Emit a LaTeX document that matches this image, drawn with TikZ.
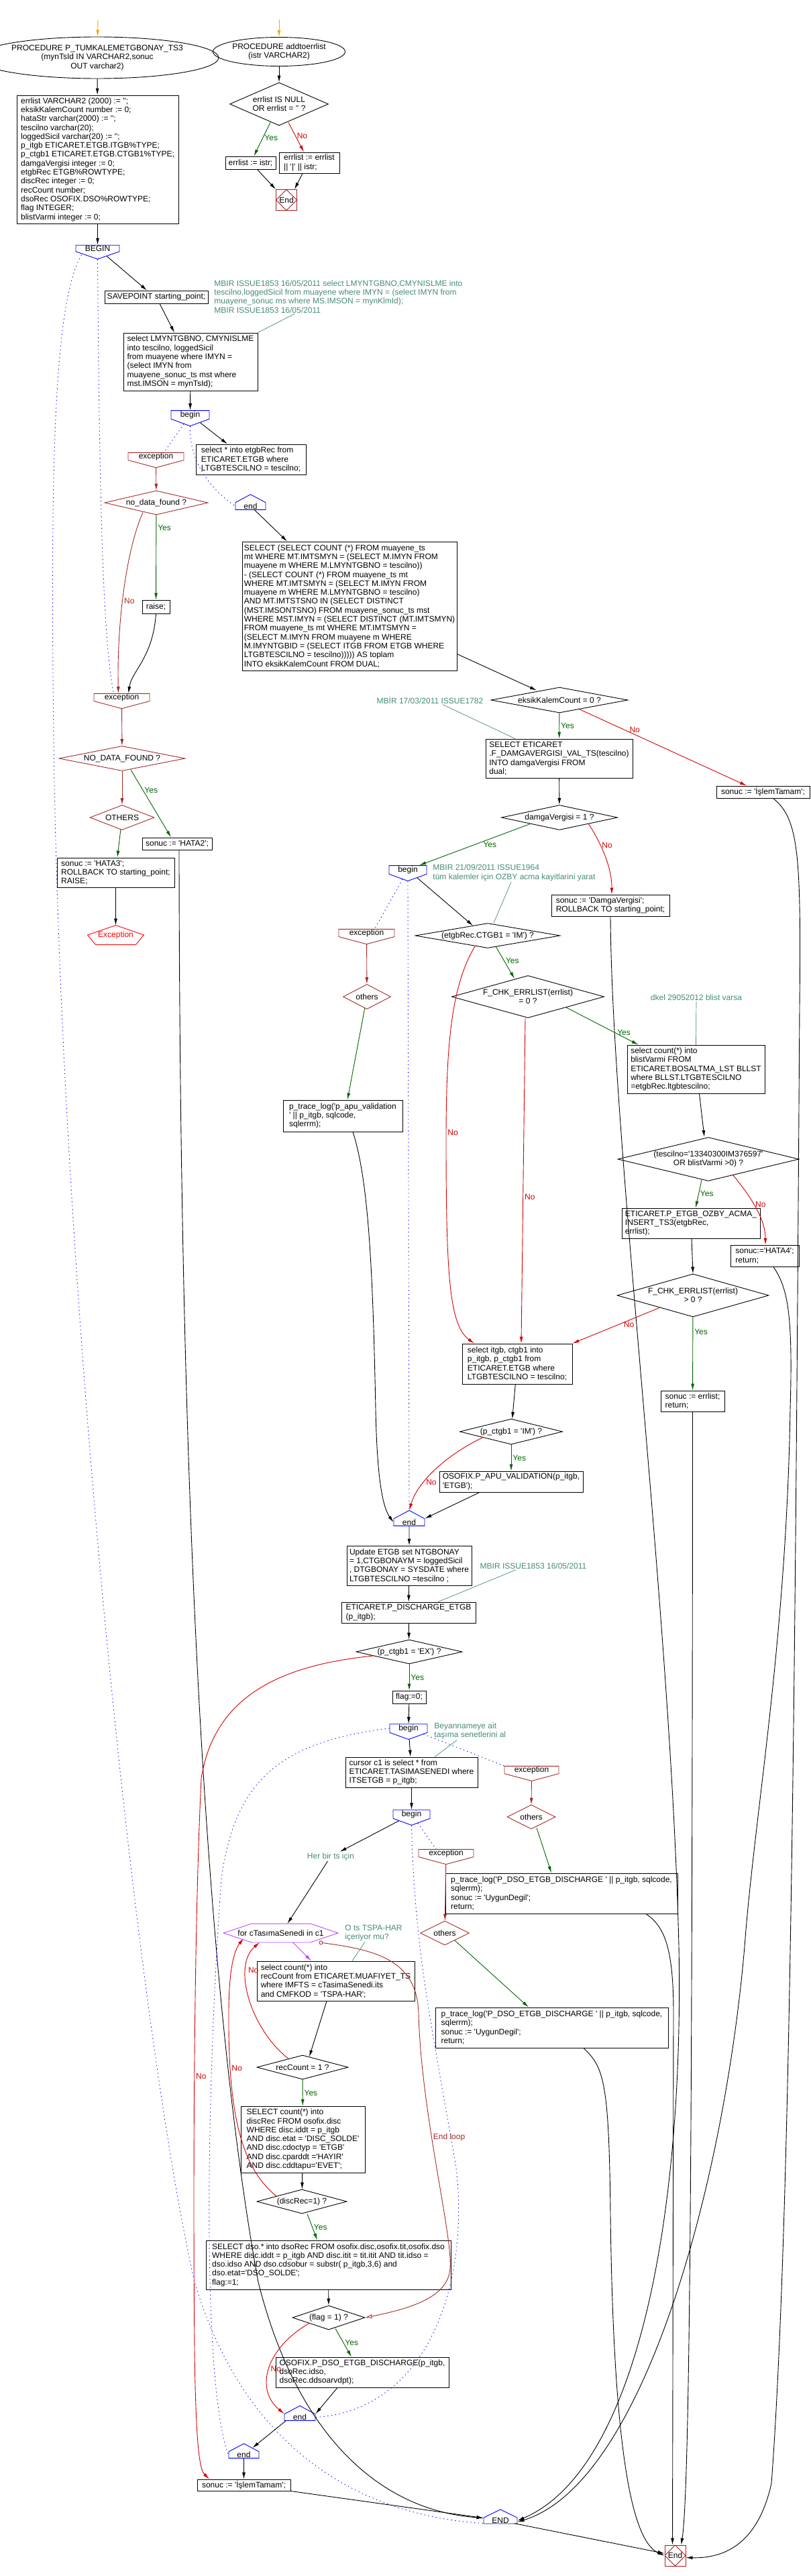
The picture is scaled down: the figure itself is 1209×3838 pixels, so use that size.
\documentclass[tikz,border=0pt]{standalone}
\usepackage{fontspec}
\setmainfont{Liberation Sans}[Ligatures=TeXOff]
\usepackage{xcolor}
\usetikzlibrary{shapes.geometric, shapes.symbols, arrows.meta, positioning}
\definecolor{exbrown}{RGB}{165,42,42}
\definecolor{yesgreen}{RGB}{0,100,0}
\definecolor{nored}{RGB}{215,0,0}
\definecolor{cmtteal}{RGB}{70,140,120}
\definecolor{forpurple}{RGB}{190,70,255}
\definecolor{startorange}{RGB}{255,165,0}
\definecolor{excred}{RGB}{255,0,0}
\definecolor{endred}{RGB}{170,30,30}
\tikzstyle{terminal} = [ellipse, draw=black, inner sep=0pt, align=center]
\tikzstyle{process} = [rectangle, draw=black, inner sep=2pt, align=left]
\tikzstyle{decision} = [diamond, draw=black, inner sep=0pt, align=center]
\tikzstyle{exdecision} = [diamond, draw=exbrown, inner sep=0pt, align=center]
\tikzstyle{blockbegin} = [signal, signal to=south, signal pointer angle=140,
draw=blue, inner sep=0pt, minimum height=18pt]
\tikzstyle{blockend} = [signal, signal to=north, signal pointer angle=124,
draw=blue, inner sep=0pt, minimum height=16pt]
\tikzstyle{exblock} = [signal, signal to=south, signal pointer angle=150,
draw=exbrown, inner sep=0pt, minimum width=83pt, minimum height=16pt]
\tikzstyle{excterm} = [rectangle, minimum width=83pt, minimum height=28pt,
inner sep=0pt, text=excred,
append after command={\pgfextra{\draw[excred] (\tikzlastnode.north) -- (\tikzlastnode.east)
 -- ([xshift=-12pt]\tikzlastnode.south east) -- ([xshift=12pt]\tikzlastnode.south west)
 -- (\tikzlastnode.west) -- cycle;}}]
\tikzstyle{endterm} = [rectangle, draw=endred, minimum width=31pt, minimum height=31pt,
inner sep=0pt,
path picture={\draw[endred] (path picture bounding box.north) -- (path picture bounding box.east)
 -- (path picture bounding box.south) -- (path picture bounding box.west) -- cycle;}]
\tikzstyle{loophex} = [rectangle, minimum width=170pt, minimum height=27pt, inner sep=0pt,
append after command={\pgfextra{\draw[forpurple] (\tikzlastnode.west)
 -- ([xshift=42pt]\tikzlastnode.north west) -- ([xshift=-41pt]\tikzlastnode.north east)
 -- (\tikzlastnode.east) -- ([xshift=-41pt]\tikzlastnode.south east)
 -- ([xshift=42pt]\tikzlastnode.south west) -- cycle;}}]
\tikzstyle{cmt} = [text=cmtteal, align=left, inner sep=1pt]
\tikzstyle{arrow} = [->,>={Latex[length=10pt,width=5pt]}]
\tikzstyle{startarrow} = [arrow, draw=startorange]
\tikzstyle{yesarrow} = [arrow, draw=yesgreen]
\tikzstyle{noarrow} = [arrow, draw=nored]
\tikzstyle{exarrow} = [arrow, draw=exbrown]
\tikzstyle{forarrow} = [arrow, draw=forpurple]
\tikzstyle{exloop} = [draw=exbrown, {Circle[open,length=6pt]}-{Latex[open,length=10pt,width=6pt]}]
\tikzstyle{dotline} = [draw=blue, dash pattern=on 1.3pt off 4.5pt]
\tikzstyle{cmtline} = [draw=cmtteal, line width=0.7pt]
\tikzstyle{lblyes} = [text=yesgreen, inner sep=2pt]
\tikzstyle{lblno} = [text=nored, inner sep=2pt]
\tikzstyle{lblex} = [text=exbrown, inner sep=2pt]

\begin{document}
\begin{tikzpicture}[x=1pt, y=1pt, line width=0.9pt, font=\fontsize{12}{13.3}\selectfont]
\useasboundingbox (0,0) rectangle (1209,-3838);
\fill[white] (0,0) rectangle (1209,-3838);

% addtoerrlist
\coordinate (proc2in) at (416,-29);
\node (proc2) [terminal, minimum width=163pt, minimum height=43pt] at (416,-77) {PROCEDURE addtoerrlist\\(istr VARCHAR2)};
\node (errdia) [decision, minimum width=147pt, minimum height=64pt, aspect=2.3] at (416,-155) {errlist IS NULL\\OR errlist = '' ?};
\node (errA) [process, minimum width=75pt, minimum height=19pt] at (373.5,-242.5) {errlist := istr;};
\node (errB) [process, minimum width=90pt, minimum height=31pt] at (461,-242.5) {errlist := errlist\\|| '|' || istr;};
\node (endaux) [endterm] at (427,-298) {End};

\draw [startarrow] (proc2in) -- (proc2);
\draw [arrow] (proc2) -- (errdia);
\draw [yesarrow] ([xshift=-13pt,yshift=5pt]errdia.south) -- node[lblyes, right, pos=0.45] {Yes} ([xshift=5pt]errA.north);
\draw [noarrow] ([xshift=14pt,yshift=5pt]errdia.south) -- node[lblno, right, pos=0.45] {No} ([xshift=-8pt]errB.north);
\draw [arrow] ([xshift=10pt]errA.south) -- (endaux.north west);
\draw [arrow] ([xshift=-10pt]errB.south) -- ([xshift=12pt]endaux.north);

% main procedure
\coordinate (procin) at (146,-29);
\node (proc) [terminal, minimum width=282pt, minimum height=62pt] at (145,-86) {PROCEDURE  P\_TUMKALEMETGBONAY\_TS3\\(mynTsId IN VARCHAR2,sonuc\\OUT varchar2)};
\node (decl) [process, minimum width=241pt, minimum height=191pt] at (145.5,-237.5) {errlist VARCHAR2 (2000) := '';\\eksikKalemCount number := 0;\\hataStr varchar(2000) := '';\\tescilno  varchar(20);\\loggedSicil varchar(20) := '';\\p\_itgb  ETICARET.ETGB.ITGB\%TYPE;\\p\_ctgb1  ETICARET.ETGB.CTGB1\%TYPE;\\damgaVergisi  integer := 0;\\etgbRec ETGB\%ROWTYPE;\\discRec  integer := 0;\\recCount number;\\dsoRec OSOFIX.DSO\%ROWTYPE;\\flag INTEGER;\\blistVarmi integer := 0;};
\node (BEGIN) [blockbegin, minimum width=65pt, minimum height=16pt, signal pointer angle=142] at (145.5,-370) {BEGIN};
\node (savept) [process, minimum width=154pt, minimum height=19pt] at (233,-442.5) {SAVEPOINT starting\_point;};
\node (cmt1) [cmt, anchor=north west] at (318,-416) {MBIR ISSUE1853 16/05/2011  select  LMYNTGBNO,CMYNISLME into\\tescilno,loggedSicil from muayene where IMYN = (select IMYN from\\muayene\_sonuc ms where MS.IMSON = mynKlmId);\\MBIR ISSUE1853 16/05/2011};
\node (selmyn) [process, minimum width=200pt, minimum height=86pt] at (284,-539) {select  LMYNTGBNO, CMYNISLME\\into tescilno, loggedSicil\\from muayene where IMYN =\\(select IMYN from\\muayene\_sonuc\_ts mst where\\mst.IMSON = mynTsId);};
\node (begin1) [blockbegin, minimum width=57pt] at (283.5,-618) {begin};
\node (exc1) [exblock] at (232.5,-680) {exception};
\node (nodata) [exdecision, minimum width=154pt, minimum height=36pt, aspect=4.3] at (233,-749) {no\_data\_found ?};
\node (raise) [process, minimum width=41pt, minimum height=20pt] at (232.5,-904) {raise;};
\node (seletgb) [process, minimum width=164pt, minimum height=45pt] at (374,-684.5) {select * into etgbRec from\\ETICARET.ETGB where\\LTGBTESCILNO = tescilno;};
\node (end1s) [blockend, minimum width=45pt] at (373.5,-754) {end};
\node (bigsel) [process, minimum width=320pt, minimum height=192pt] at (521,-903) {SELECT (SELECT COUNT (*) FROM muayene\_ts\\mt WHERE MT.IMTSMYN = (SELECT M.IMYN FROM\\muayene m WHERE M.LMYNTGBNO = tescilno))\\- (SELECT COUNT (*) FROM muayene\_ts mt\\WHERE MT.IMTSMYN = (SELECT M.IMYN FROM\\muayene m WHERE M.LMYNTGBNO = tescilno)\\AND MT.IMTSTSNO IN (SELECT DISTINCT\\(MST.IMSONTSNO) FROM muayene\_sonuc\_ts mst\\WHERE MST.IMYN = (SELECT DISTINCT (MT.IMTSMYN)\\FROM muayene\_ts mt WHERE MT.IMTSMYN =\\(SELECT M.IMYN FROM muayene m WHERE\\M.IMYNTGBID = (SELECT ITGB FROM ETGB WHERE\\LTGBTESCILNO = tescilno))))) AS toplam\\INTO eksikKalemCount FROM DUAL;};
\node (exc0) [exblock] at (181.5,-1039) {exception};
\node (NODATA) [exdecision, minimum width=188pt, minimum height=37pt, aspect=5] at (182,-1130) {NO\_DATA\_FOUND ?};
\node (OTHERS) [exdecision, minimum width=96pt, minimum height=37pt, aspect=2.6] at (182,-1218) {OTHERS};
\node (hata2) [process, minimum width=104pt, minimum height=18pt] at (264,-1257) {sonuc := 'HATA2';};
\node (hata3) [process, minimum width=175pt, minimum height=44pt] at (172.5,-1300) {sonuc := 'HATA3';\\ROLLBACK TO starting\_point;\\RAISE;};
\node (excterm) [excterm] at (172.5,-1393) {Exception};

\node (eksik) [decision, minimum width=204pt, minimum height=38pt, aspect=5.4] at (834,-1043) {eksikKalemCount = 0 ?};
\node (cmt2) [cmt] at (641,-1043) {MBİR 17/03/2011 ISSUE1782};
\node (damgasel) [process, minimum width=219pt, minimum height=58pt] at (833.5,-1130) {SELECT ETICARET\\.F\_DAMGAVERGISI\_VAL\_TS(tescilno)\\INTO damgaVergisi FROM\\dual;};
\node (islem1) [process, minimum width=139pt, minimum height=18pt] at (1137.5,-1180) {sonuc := 'İşlemTamam';};
\node (damga) [decision, minimum width=173pt, minimum height=37pt, aspect=4.7] at (834,-1218) {damgaVergisi = 1 ?};
\node (begin2m) [blockbegin, minimum width=56pt] at (608,-1296) {begin};
\node (cmt3) [cmt, anchor=west] at (644,-1300.5) {MBIR 21/09/2011 ISSUE1964\\tüm kalemler için OZBY acma kayitlarini yarat};
\node (damgasonuc) [process, minimum width=176pt, minimum height=32pt] at (910,-1349) {sonuc := 'DamgaVergisi';\\ROLLBACK TO starting\_point;};
\node (ctgb) [decision, minimum width=216pt, minimum height=37pt, aspect=5.8] at (727,-1394) {(etgbRec.CTGB1 = 'IM') ?};
\node (exc2) [exblock] at (546.5,-1390) {exception};
\node (others2) [exdecision, minimum width=71pt, minimum height=37pt, aspect=1.9] at (547,-1485) {others};
\node (apulog) [process, minimum width=178pt, minimum height=47pt] at (511,-1662.5) {p\_trace\_log('p\_apu\_validation\\' || p\_itgb, sqlcode,\\sqlerrm);};
\node (fchk0) [decision, minimum width=227pt, minimum height=63pt, aspect=3.6] at (787,-1485) {F\_CHK\_ERRLIST(errlist)\\= 0 ?};
\node (cmt4) [cmt] at (1038,-1486) {dkel 29052012 blist varsa};
\node (blist) [process, minimum width=205pt, minimum height=72pt] at (1037.5,-1593) {select count(*)  into\\blistVarmi FROM\\ETICARET.BOSALTMA\_LST BLLST\\where BLLST.LTGBTESCILNO\\=etgbRec.ltgbtescilno;};
\node (tescil) [decision, minimum width=270pt, minimum height=65pt, aspect=4.15] at (1056,-1727) {(tescilno='13340300IM376597'\\OR blistVarmi >0) ?};
\node (ozby) [process, minimum width=206pt, minimum height=45pt] at (1030,-1822.5) {ETICARET.P\_ETGB\_OZBY\_ACMA\_\\INSERT\_TS3(etgbRec,\\errlist);};
\node (hata4) [process, minimum width=102pt, minimum height=32pt] at (1140,-1871) {sonuc:='HATA4';\\return;};
\node (fchkgt) [decision, minimum width=226pt, minimum height=64pt, aspect=3.5] at (1033,-1930) {F\_CHK\_ERRLIST(errlist)\\> 0 ?};
\node (errret) [process, minimum width=95pt, minimum height=31pt] at (1032.5,-2087.5) {sonuc := errlist;\\return;};
\node (selitgb) [process, minimum width=164pt, minimum height=60pt] at (771,-2032) {select itgb, ctgb1  into\\p\_itgb, p\_ctgb1  from\\ETICARET.ETGB where\\LTGBTESCILNO = tescilno;};
\node (ctgbim) [decision, minimum width=153pt, minimum height=38pt, aspect=4] at (762,-2133) {(p\_ctgb1 = 'IM') ?};
\node (apuval) [process, minimum width=214pt, minimum height=31pt] at (762,-2207.5) {OSOFIX.P\_APU\_VALIDATION(p\_itgb,\\'ETGB');};
\node (end2m) [blockend, minimum width=46pt] at (610,-2268) {end};
\node (update) [process, minimum width=186pt, minimum height=59pt] at (610,-2332.5) {Update ETGB set NTGBONAY\\= 1,CTGBONAYM = loggedSicil\\, DTGBONAY = SYSDATE where\\LTGBTESCILNO =tescilno ;};
\node (cmt5) [cmt] at (795,-2333) {MBIR ISSUE1853 16/05/2011};
\node (discharge) [process, minimum width=200pt, minimum height=31pt] at (609,-2402.5) {ETICARET.P\_DISCHARGE\_ETGB\\(p\_itgb);};
\node (exdia) [decision, minimum width=158pt, minimum height=36pt, aspect=4.4] at (610,-2461) {(p\_ctgb1 = 'EX') ?};
\node (flag0) [process, minimum width=50pt, minimum height=19pt] at (610,-2528.5) {flag:=0;};
\node (begin3) [blockbegin, minimum width=56pt] at (609,-2575) {begin};
\node (cmt6) [cmt, anchor=west] at (646,-2579) {Beyannameye ait\\taşıma senetlerini al};
\node (cursor) [process, minimum width=197pt, minimum height=45pt] at (613.5,-2640.5) {cursor c1 is select * from\\ETICARET.TASIMASENEDI where\\ITSETGB = p\_itgb;};
\node (exc3) [exblock, minimum width=81pt] at (792.5,-2637) {exception};
\node (others3) [exdecision, minimum width=72pt, minimum height=36pt, aspect=2] at (792,-2707) {others};
\node (trace1) [process, minimum width=346pt, minimum height=60pt] at (837,-2821) {p\_trace\_log('P\_DSO\_ETGB\_DISCHARGE ' || p\_itgb, sqlcode,\\sqlerrm);\\sonuc := 'UygunDegil';\\return;};
\node (begin4) [blockbegin, minimum width=55pt] at (613.5,-2703) {begin};
\node (herbir) [cmt] at (493,-2766) {Her bir ts için};
\node (exc4) [exblock, minimum width=82pt] at (665,-2761) {exception};
\node (others4) [exdecision, minimum width=73pt, minimum height=36pt, aspect=2] at (663,-2880) {others};
\node (forloop) [loophex] at (418.5,-2880) {for cTasımaSenedi in c1};
\node (cmt7) [cmt, anchor=west] at (513,-2880) {O ts TSPA-HAR\\içeriyor mu?};
\node (trace2) [process, minimum width=347pt, minimum height=60pt] at (822.5,-3021) {p\_trace\_log('P\_DSO\_ETGB\_DISCHARGE ' || p\_itgb, sqlcode,\\sqlerrm);\\sonuc := 'UygunDegil';\\return;};
\node (reccnt) [process, minimum width=235pt, minimum height=59pt] at (500.5,-2951.5) {select count(*) into\\recCount from ETICARET.MUAFIYET\_TS\\where IMFTS = cTasimaSenedi.its\\and CMFKOD = 'TSPA-HAR';};
\node (recdia) [decision, minimum width=136pt, minimum height=36pt, aspect=3.8] at (451,-3080) {recCount = 1 ?};
\node (discsel) [process, minimum width=185pt, minimum height=99pt] at (451.5,-3187.5) {SELECT  count(*) into\\discRec FROM osofix.disc\\WHERE  disc.iddt = p\_itgb\\AND  disc.etat = 'DISC\_SOLDE'\\AND  disc.cdoctyp = 'ETGB'\\AND  disc.cparddt ='HAYIR'\\AND disc.cddtapu='EVET';};
\node (discdia) [decision, minimum width=134pt, minimum height=36pt, aspect=3.7] at (450,-3280) {(discRec=1) ?};
\node (dsosel) [process, minimum width=365pt, minimum height=73pt] at (489.5,-3374.5) {SELECT dso.* into dsoRec FROM osofix.disc,osofix.tit,osofix.dso\\WHERE disc.iddt = p\_itgb AND disc.itit = tit.itit AND tit.idso  =\\dso.idso AND dso.cdsobur = substr( p\_itgb,3,6) and\\dso.etat='DSO\_SOLDE';\\flag:=1;};
\node (flagdia) [decision, minimum width=108pt, minimum height=36pt, aspect=3] at (490,-3453) {(flag = 1) ?};
\node (dsodis) [process, minimum width=258pt, minimum height=45pt] at (540,-3534.5) {OSOFIX.P\_DSO\_ETGB\_DISCHARGE(p\_itgb,\\dsoRec.idso,\\dsoRec.ddsoarvdpt);};
\node (endA) [blockend, minimum width=46pt, minimum height=15pt] at (447,-3601.5) {end};
\node (endB) [blockend, minimum width=45pt, minimum height=15pt] at (363.5,-3657.5) {end};
\node (islem2) [process, minimum width=139pt, minimum height=17pt] at (363.5,-3702.5) {sonuc := 'İşlemTamam';};
\node (ENDm) [blockend, minimum width=50pt, minimum height=15pt, signal pointer angle=128] at (746,-3755.5) {END};
\node (endf) [endterm] at (1006.5,-3807.5) {End};

% top part
\draw [startarrow] (procin) -- (proc);
\draw [arrow] (proc) -- (decl);
\draw [arrow] (decl) -- (BEGIN);
\draw [arrow] (BEGIN) -- ([xshift=-14pt]savept.north);
\draw [cmtline] ([xshift=121pt]cmt1.south west) -- (selmyn.north east);
\draw [arrow] ([xshift=5pt]savept.south) -- ([xshift=-24pt]selmyn.north);
\draw [arrow] (selmyn) -- (begin1);
\draw [arrow] (begin1) -- ([xshift=-35pt]seletgb.north);
\draw [dotline] (begin1) -- ([xshift=12pt]exc1.north);
\draw [dotline] (begin1.south) .. controls (281,-700) and (330,-740) .. (end1s.west);
\draw [exarrow] (exc1) -- (nodata);
\draw [yesarrow] (nodata) -- node[lblyes, right, pos=0.15] {Yes} (raise);
\draw [exarrow] ([xshift=-20pt,yshift=4pt]nodata.south) .. controls (188,-820) and (174,-930) .. node[lblex, right, pos=0.55] {No} ([xshift=-5pt]exc0.north);
\draw [arrow] (raise.south) .. controls (228,-980) and (196,-1000) .. ([xshift=10pt]exc0.north);
\draw [dotline] (BEGIN.south) .. controls (148,-700) and (152,-950) .. ([xshift=-12pt]exc0.north);
\draw [dotline] ([xshift=-24pt,yshift=-10pt]BEGIN.center) .. controls (80,-450) and (75,-700) .. (80,-1100) .. controls (90,-1900) and (200,-3000) .. (290,-3400) .. controls (380,-3700) and (600,-3752) .. ([yshift=-4pt]ENDm.west);

% exception part
\draw [exarrow] (exc0) -- (NODATA);
\draw [exarrow] (NODATA) -- (OTHERS);
\draw [yesarrow] ([xshift=13pt,yshift=2pt]NODATA.south) -- node[lblyes, right, pos=0.3] {Yes} ([xshift=-9pt]hata2.north);
\draw [yesarrow] (OTHERS) -- ([xshift=2.5pt]hata3.north);
\draw [arrow] (hata3) -- (excterm.north);
\draw [arrow] ([xshift=3pt]hata2.south) .. controls (268,-2500) and (330,-3100) .. (385,-3400) .. controls (440,-3620) and (560,-3740) .. ([yshift=4pt]ENDm.west);

% count check
\draw [arrow] (end1s) -- ([xshift=-93pt]bigsel.north);
\draw [arrow] ([yshift=25pt]bigsel.south east) -- ([xshift=-34pt,yshift=-5pt]eksik.north);
\draw [cmtline] ([xshift=19pt]cmt2.south) -- ([xshift=-65.5pt]damgasel.north);
\draw [yesarrow] (eksik) -- node[lblyes, right] {Yes} (damgasel);
\draw [noarrow] ([xshift=30pt,yshift=5.6pt]eksik.south) -- node[lblno, above, pos=0.33] {No} ([xshift=-24.5pt]islem1.north);
\draw [arrow] ([xshift=15pt]islem1.south) .. controls (1192,-1220) and (1194,-1280) .. (1192,-1500) .. controls (1186,-2400) and (1180,-3300) .. (1150,-3700) .. controls (1130,-3790) and (1080,-3812) .. ([yshift=-3pt]endf.east);
\draw [arrow] (damgasel) -- (damga);
\draw [yesarrow] (damga.south west) -- node[lblyes, below, pos=0.4, xshift=6pt] {Yes} ([xshift=17pt]begin2m.north);
\draw [noarrow] (damga.south east) .. controls (895,-1255) and (912,-1290) .. node[lblno, right, pos=0.35] {No} ([xshift=2pt]damgasonuc.north);
\draw [arrow] (damgasonuc.south) .. controls (912,-1700) and (1000,-2400) .. (1012,-2900) .. controls (1020,-3300) and (950,-3680) .. (ENDm.east);

% blist part
\draw [cmtline] ([xshift=118pt]cmt3.south west) -- ([xshift=9pt]ctgb.north);
\draw [arrow] (begin2m) -- ([xshift=-22pt,yshift=-4pt]ctgb.north);
\draw [dotline] (begin2m) -- ([xshift=12pt]exc2.north);
\draw [dotline] (begin2m.south) -- (end2m.north);
\draw [exarrow] (exc2) -- (others2);
\draw [yesarrow] (others2) -- ([xshift=7pt]apulog.north);
\draw [arrow] ([xshift=15pt]apulog.south) .. controls (550,-1760) and (556,-1900) .. (560,-2100) .. controls (562,-2200) and (570,-2245) .. (end2m.west);
\draw [yesarrow] ([xshift=12pt,yshift=3pt]ctgb.south) -- node[lblyes, right, pos=0.45] {Yes} ([xshift=-20pt,yshift=-5pt]fchk0.north);
\draw [noarrow] ([xshift=-19pt,yshift=3pt]ctgb.south) .. controls (672,-1470) and (665,-1560) .. node[lblno, right, pos=0.97] {No} (665,-1700) .. controls (665,-1900) and (670,-1975) .. ([xshift=-64pt]selitgb.north);
\draw [yesarrow] (fchk0.south east) -- node[lblyes, above, pos=0.8] {Yes} ([xshift=17pt]blist.north west);
\draw [noarrow] ([xshift=-4pt]fchk0.south) -- node[lblno, right, pos=0.55] {No} ([xshift=6pt]selitgb.north);
\draw [cmtline] (cmt4) -- (blist.north);
\draw [arrow] ([xshift=5pt]blist.south) -- ([xshift=-6pt]tescil.north);
\draw [yesarrow] ([xshift=-10pt,yshift=2pt]tescil.south) -- node[lblyes, right] {Yes} ([xshift=7pt]ozby.north);
\draw [noarrow] ([xshift=37pt,yshift=9pt]tescil.south) .. controls (1125,-1790) and (1141,-1820) .. node[lblno, right, pos=0.4] {No} ([xshift=1pt]hata4.north);
\draw [arrow] ([xshift=1pt]ozby.south) -- (fchkgt.north);
\draw [arrow] ([xshift=13pt]hata4.south) .. controls (1175,-1920) and (1182,-1960) .. (1178,-2100) .. controls (1172,-2450) and (1125,-2700) .. (1110,-2900) .. controls (1080,-3250) and (960,-3700) .. ([yshift=-2pt]ENDm.east);
\draw [yesarrow] (fchkgt) -- node[lblyes, right, pos=0.2] {Yes} (errret);
\draw [noarrow] ([xshift=-50pt,yshift=14pt]fchkgt.south) -- node[lblno, below, pos=0.35] {No} (selitgb.north east);
\draw [arrow] (errret.south) .. controls (1032,-3000) and (1030,-3700) .. ([xshift=9pt]endf.north);

% discharge part
\draw [arrow] (selitgb) -- (ctgbim);
\draw [yesarrow] (ctgbim) -- node[lblyes, right] {Yes} (apuval);
\draw [noarrow] ([xshift=-42pt,yshift=-8.6pt]ctgbim.center) .. controls (680,-2160) and (625,-2200) .. node[lblno, right, pos=0.7] {No} (end2m.north);
\draw [arrow] ([xshift=-47pt]apuval.south) -- (end2m.north east);
\draw [arrow] (end2m) -- (update);
\draw [cmtline] ([xshift=-26pt]cmt5.south) -- ([xshift=44pt]discharge.north);
\draw [arrow] (update) -- (discharge);
\draw [arrow] (discharge) -- (exdia);
\draw [yesarrow] (exdia) -- node[lblyes, right] {Yes} (flag0);
\draw [noarrow] ([xshift=-54pt,yshift=-6pt]exdia.center) .. controls (430,-2480) and (320,-2520) .. (300,-2650) .. controls (288,-2900) and (288,-3300) .. node[lblno, right, pos=0.5] {No} (290,-3500) .. controls (292,-3650) and (298,-3680) .. ([xshift=-51.5pt]islem2.north);
\draw [arrow] (flag0) -- (begin3);
\draw [cmtline] ([xshift=35pt]cmt6.south west) -- ([xshift=34.5pt]cursor.north);
\draw [arrow] (begin3) -- (cursor);
\draw [dotline] (begin3) -- (exc3.north west);
\draw [dotline] (begin3.west) .. controls (420,-2595) and (350,-2650) .. (330,-2800) .. controls (308,-3100) and (300,-3550) .. (endB.west);
\draw [exarrow] (exc3) -- (others3);
\draw [yesarrow] ([xshift=8pt,yshift=2pt]others3.south) -- ([xshift=-15pt]trace1.north);
\draw [arrow] ([xshift=126pt]trace1.south) .. controls (990,-2870) and (1004,-2900) .. (1004,-3000) -- ([xshift=-4pt]endf.north);

% loop part
\draw [arrow] (cursor) -- (begin4);
\draw [arrow] (begin4) -- (herbir);
\draw [arrow] (herbir) -- ([xshift=10pt]forloop.north);
\draw [dotline] (begin4) -- ([xshift=-15pt]exc4.north);
\draw [dotline] (begin4.south) .. controls (618,-2900) and (640,-3000) .. (680,-3230) .. controls (700,-3400) and (640,-3590) .. (endA.east);
\draw [exarrow] (exc4) -- (others4);
\draw [yesarrow] ([xshift=15pt,yshift=7.4pt]others4.south) -- ([xshift=-34.5pt]trace2.north);
\draw [arrow] ([xshift=47.5pt]trace2.south) .. controls (900,-3080) and (908,-3100) .. (910,-3300) .. controls (915,-3700) and (950,-3790) .. (endf.west);
\draw [cmtline] ([xshift=31pt]cmt7.south west) -- ([xshift=24.5pt]reccnt.north);
\draw [forarrow] ([xshift=18pt]forloop.south) -- ([xshift=-36.5pt]reccnt.north);
\draw [arrow] ([xshift=-13.5pt]reccnt.south) -- ([xshift=10pt,yshift=-3pt]recdia.north);
\draw [noarrow] ([xshift=-21pt,yshift=-5.6pt]recdia.north) .. controls (375,-3025) and (345,-2930) .. node[lblno, right, pos=0.72] {No} ([xshift=-31.5pt]forloop.south);
\draw [yesarrow] (recdia) -- node[lblyes, right] {Yes} (discsel);
\draw [arrow] (discsel) -- (discdia);
\draw [noarrow] ([xshift=-38pt,yshift=8pt]discdia.center) .. controls (360,-3230) and (340,-3150) .. node[lblno, right, pos=0.8] {No} (341,-3000) .. controls (341,-2930) and (350,-2905) .. ([xshift=-55.5pt,yshift=6pt]forloop.south);
\draw [yesarrow] ([xshift=8pt]discdia.south) -- node[lblyes, right] {Yes} ([xshift=-16.5pt]dsosel.north);
\draw [arrow] (dsosel) -- (flagdia);
\draw [exloop] ([xshift=57pt]forloop.south) .. controls (560,-2905) and (622,-2920) .. (624,-3000) .. controls (628,-3150) and (675,-3330) .. node[lblex, right, pos=0.4] {End loop} (671,-3380) .. controls (668,-3420) and (620,-3438) .. (flagdia.east);
\draw [yesarrow] ([xshift=10pt,yshift=2pt]flagdia.south) -- node[lblyes, right] {Yes} ([xshift=-16pt]dsodis.north);
\draw [noarrow] ([xshift=-29pt,yshift=-8.3pt]flagdia.center) .. controls (395,-3500) and (380,-3560) .. node[lblno, right, pos=0.5] {No} (endA.north west);
\draw [arrow] ([xshift=-37pt]dsodis.south) -- (endA.north east);
\draw [arrow] ([xshift=-21pt]endA.south) -- (endB);
\draw [arrow] (endB) -- (islem2);
\draw [arrow] (islem2.south east) -- ([yshift=4pt]ENDm.west);
\draw [arrow] (ENDm) -- (endf);

\end{tikzpicture}
\end{document}
